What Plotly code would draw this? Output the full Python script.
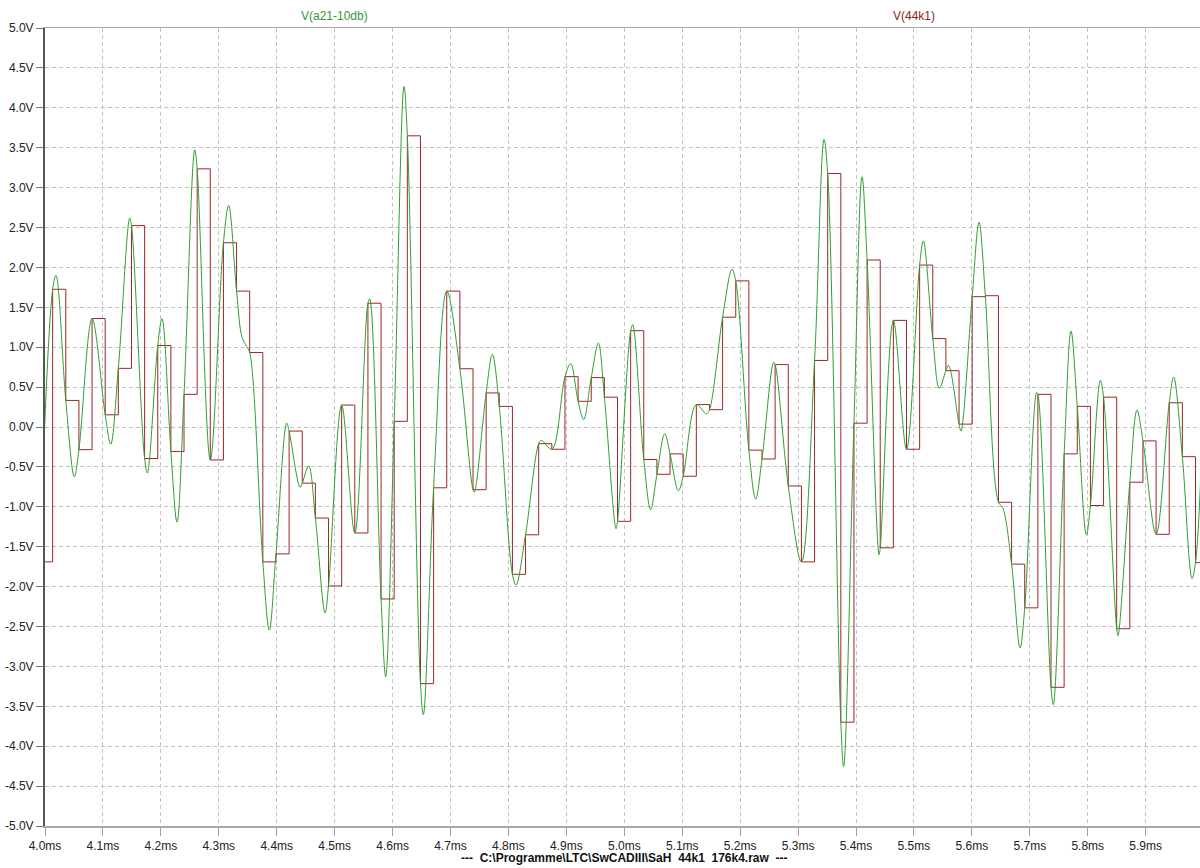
import plotly.graph_objects as go

# ---------------- data ----------------
# Sample-and-hold trace V(44k1): one value per 44.1 kHz sample
SAMPLE_RATE_KHZ = 44.1
FIRST_SAMPLE_MS = 3.99055
red_values = [
    -1.69, 1.726, 0.333, -0.284, 1.359, 0.153, 0.735, 2.524, -0.395, 1.021,
    -0.308, 0.409, 3.235, -0.413, 2.309, 1.703, 0.934, -1.69, -1.59, -0.051,
    -0.704, -1.141, -1.992, 0.275, -1.328, 1.551, -2.155, 0.071, 3.649, -3.216,
    -0.762, 1.703, 0.730, -0.786, 0.427, 0.258, -1.846, -1.351, -0.209, -0.279,
    0.631, 0.322, 0.619, 0.374, -1.182, 1.207, -0.407, -0.593, -0.337, -0.617,
    0.281, 0.217, 1.376, 1.831, -0.290, -0.401, 0.782, -0.739, -1.69, 0.834,
    3.177, -3.699, 0.048, 2.093, -1.514, 1.336, -0.279, 2.029, 1.108, 0.706,
    0.036, 1.633, 1.645, -0.943, -1.718, -2.266, 0.409, -3.262, -0.337, 0.258,
    -0.984, 0.374, -2.528, -0.692, -0.174, -1.345, 0.304, -0.372, -1.70,
]

# Continuous trace V(a21-10db): peaks, troughs and shoulders between samples
green_extra_t = [
    4.0190, 4.0506, 4.1134, 4.1462, 4.1767, 4.2020, 4.2279, 4.2584, 4.3171, 4.3401,
    4.3481, 4.3872, 4.4172, 4.4402, 4.4552, 4.4834, 4.5605, 4.5881, 4.6197, 4.6531,
    4.7411, 4.7722, 4.8131, 4.8568, 4.9074, 4.9299, 4.9552, 4.9857, 5.0145, 5.0455,
    5.0697, 5.0933, 5.1416, 5.1859, 5.2268, 5.2578, 5.3447, 5.3787, 5.4103, 5.4397,
    5.5162, 5.5438, 5.5599, 5.5812, 5.6123, 5.6532, 5.6831, 5.7118, 5.7406, 5.7711,
    5.7976, 5.8217, 5.8522, 5.8850, 5.9483, 5.9800, 5.9960,
]
green_extra_v = [
    1.901, -0.622, -0.214, 2.618, -0.576, 1.359, -1.193, 3.474, 2.775, 1.126,
    1.009, -2.545, 0.048, -0.756, -0.488, -2.330, 1.604, -3.128, 4.267, -3.606,
    -0.815, 0.910, -1.980, -0.168, 0.794, 0.094, 1.050, -1.275, 1.283, -1.036,
    -0.086, -0.797, 0.164, 1.977, -0.902, 0.811, 3.603, -4.253, 3.136, -1.601,
    2.332, 0.485, 0.770, -0.051, 2.565, -1.010, -2.767, 0.432, -3.478, 1.202,
    -1.351, 0.584, -2.615, 0.211, 0.625, -1.899, -0.450,
]

x_tick_vals = [4.0, 4.1, 4.2, 4.3, 4.4, 4.5, 4.6, 4.7, 4.8, 4.9,
               5.0, 5.1, 5.2, 5.3, 5.4, 5.5, 5.6, 5.7, 5.8, 5.9]
x_tick_text = ["4.0ms", "4.1ms", "4.2ms", "4.3ms", "4.4ms", "4.5ms", "4.6ms", "4.7ms",
               "4.8ms", "4.9ms", "5.0ms", "5.1ms", "5.2ms", "5.3ms", "5.4ms", "5.5ms",
               "5.6ms", "5.7ms", "5.8ms", "5.9ms"]
y_tick_vals = [5.0, 4.5, 4.0, 3.5, 3.0, 2.5, 2.0, 1.5, 1.0, 0.5, 0.0,
               -0.5, -1.0, -1.5, -2.0, -2.5, -3.0, -3.5, -4.0, -4.5, -5.0]
y_tick_text = ["5.0V", "4.5V", "4.0V", "3.5V", "3.0V", "2.5V", "2.0V", "1.5V", "1.0V",
               "0.5V", "0.0V", "-0.5V", "-1.0V", "-1.5V", "-2.0V", "-2.5V", "-3.0V",
               "-3.5V", "-4.0V", "-4.5V", "-5.0V"]

green_name = "V(a21-10db)"
red_name = "V(44k1)"
file_label = "---\u00a0\u00a0C:\\Programme\\LTC\\SwCADIII\\SaH\u00a0\u00a044k1\u00a0\u00a0176k4.raw\u00a0\u00a0---"

# ---------------- build traces ----------------
period = 1.0 / SAMPLE_RATE_KHZ
red_t = [FIRST_SAMPLE_MS + i * period for i in range(len(red_values))]
# hold the last value for one more sample period
red_t_draw = red_t + [red_t[-1] + period]
red_v_draw = red_values + [red_values[-1]]

# the continuous signal passes through every sample value
pts = sorted(list(zip(red_t, red_values)) + list(zip(green_extra_t, green_extra_v)))
green_t = [p[0] for p in pts]
green_v = [p[1] for p in pts]

GREEN = "#2f9e2f"
RED = "#9e2626"
GRID = "#c3c3c3"
FONT = "Liberation Sans, Arial, sans-serif"

fig = go.Figure()
fig.add_trace(go.Scatter(x=red_t_draw, y=red_v_draw, mode="lines", name=red_name,
                         line=dict(color=RED, width=1, shape="hv"), hoverinfo="skip"))
fig.add_trace(go.Scatter(x=green_t, y=green_v, mode="lines", name=green_name,
                         line=dict(color=GREEN, width=1, shape="spline", smoothing=1.0),
                         hoverinfo="skip"))

x_end = 4.0 + 1155.0 / 579.3

fig.update_layout(
    width=1200, height=868,
    margin=dict(l=45, r=0, t=28, b=42),
    paper_bgcolor="white", plot_bgcolor="white",
    showlegend=False,
    hovermode=False,
    font=dict(family=FONT, size=12, color="#222222"),
    xaxis=dict(
        range=[4.0, x_end], tickmode="array", tickvals=x_tick_vals, ticktext=x_tick_text,
        showgrid=True, gridcolor=GRID, gridwidth=1, griddash="4px,3px",
        ticks="outside", ticklen=8, tickcolor="#a0a0a0", tickwidth=1,
        showline=True, linecolor="#a8a8a8", linewidth=1.5, mirror=True,
        zeroline=False, tickfont=dict(family=FONT, size=12, color="#222222"),
    ),
    yaxis=dict(
        range=[-5.0, 5.0], tickmode="array", tickvals=y_tick_vals, ticktext=y_tick_text,
        showgrid=True, gridcolor=GRID, gridwidth=1, griddash="4px,3px",
        ticks="outside", ticklen=7, tickcolor="#777777", tickwidth=1,
        showline=True, linecolor="#555555", linewidth=2,
        zeroline=False, tickfont=dict(family=FONT, size=12, color="#222222"),
    ),
    annotations=[
        dict(text=green_name, xref="paper", yref="paper", x=0.2507, y=1.015,
             showarrow=False, xanchor="center", yanchor="middle",
             font=dict(family=FONT, size=12, color="#339933")),
        dict(text=red_name, xref="paper", yref="paper", x=0.7524, y=1.015,
             showarrow=False, xanchor="center", yanchor="middle",
             font=dict(family=FONT, size=12, color="#8f1d1d")),
        dict(text="<b>" + file_label + "</b>", xref="paper", yref="paper", x=0.5013, y=-0.040,
             showarrow=False, xanchor="center", yanchor="middle",
             font=dict(family=FONT, size=12, color="#111111")),
    ],
)

fig.write_html("out.html",
               config={"displayModeBar": False, "staticPlot": True},
               post_script="document.body.style.margin='0';document.body.style.overflow='hidden';")
